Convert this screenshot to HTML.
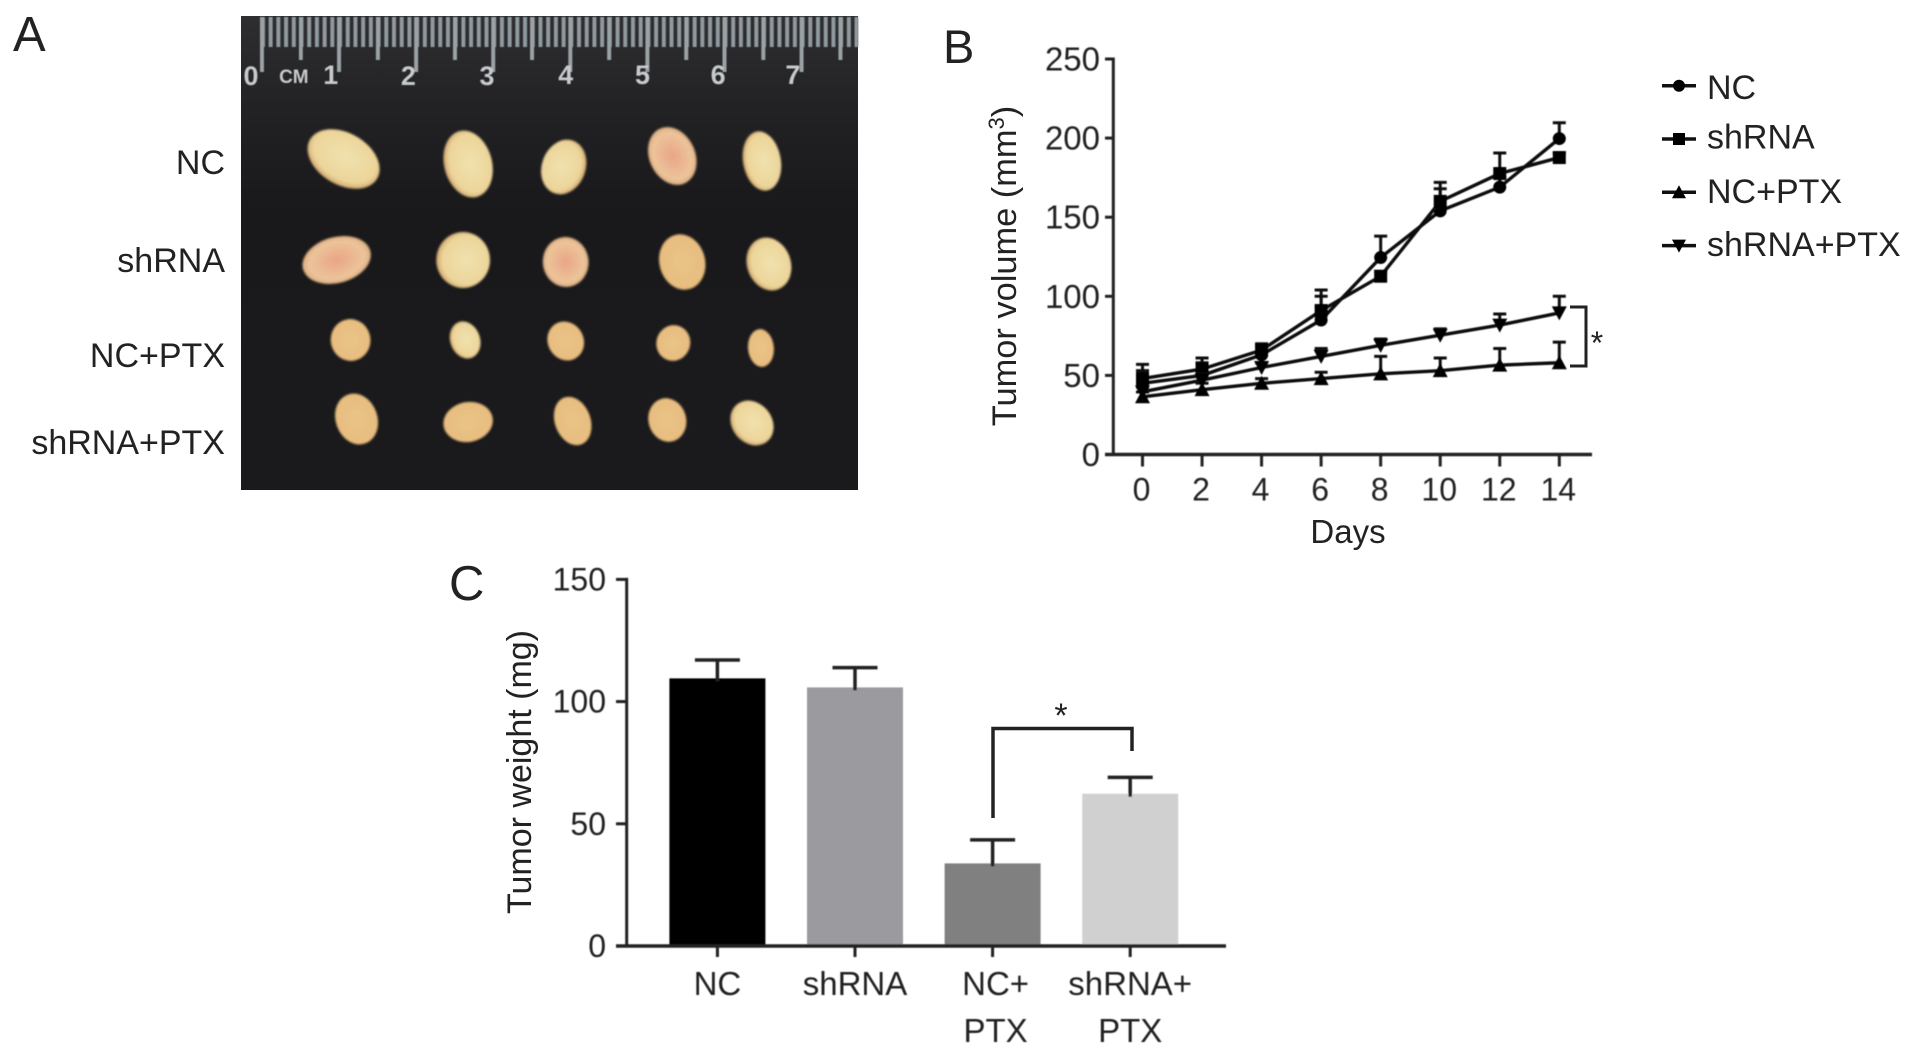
<!DOCTYPE html>
<html>
<head>
<meta charset="utf-8">
<title>Tumor figure</title>
<style>
html,body{margin:0;padding:0;background:#fff;}
body{width:1913px;height:1055px;overflow:hidden;}
svg{display:block;}
text{font-family:"Liberation Sans",sans-serif;fill:#222;}
</style>
</head>
<body>
<svg id="figure" xmlns="http://www.w3.org/2000/svg" width="1913" height="1055" viewBox="0 0 1913 1055">
<defs>
  <linearGradient id="photoBg" x1="0" y1="0" x2="0" y2="1">
    <stop offset="0" stop-color="#2e2e30"/><stop offset="0.2" stop-color="#222224"/><stop offset="0.4" stop-color="#19191b"/><stop offset="1" stop-color="#1a1a1c"/>
  </linearGradient>
  <radialGradient id="tYellow" cx="0.5" cy="0.45" r="0.62">
    <stop offset="0" stop-color="#f0e2ae"/><stop offset="0.7" stop-color="#ecd59a"/><stop offset="0.93" stop-color="#c99a62"/><stop offset="1" stop-color="#5a3d28"/>
  </radialGradient>
  <radialGradient id="tPink" cx="0.5" cy="0.5" r="0.62">
    <stop offset="0" stop-color="#e9a586"/><stop offset="0.65" stop-color="#ecc49a"/><stop offset="0.93" stop-color="#cf9a6c"/><stop offset="1" stop-color="#5a3526"/>
  </radialGradient>
  <radialGradient id="tOrange" cx="0.5" cy="0.5" r="0.62">
    <stop offset="0" stop-color="#e9c487"/><stop offset="0.75" stop-color="#e8bd80"/><stop offset="0.93" stop-color="#c88f52"/><stop offset="1" stop-color="#4e3018"/>
  </radialGradient>
  <pattern id="mmTicks" patternUnits="userSpaceOnUse" x="262" y="0" width="7.74" height="10">
    <rect x="0" y="0" width="4" height="10" fill="#8f999f"/>
  </pattern>
  <pattern id="cmTicks" patternUnits="userSpaceOnUse" x="261" y="0" width="77.4" height="10">
    <rect x="0" y="0" width="4" height="10" fill="#9aa2a6"/>
  </pattern>
  <pattern id="halfTicks" patternUnits="userSpaceOnUse" x="300" y="0" width="77.4" height="10">
    <rect x="0" y="0" width="4" height="10" fill="#9aa2a6"/>
  </pattern>
  <filter id="soft" x="-10%" y="-10%" width="120%" height="120%"><feGaussianBlur stdDeviation="1.1"/></filter>
  <filter id="softer" x="-5%" y="-5%" width="110%" height="110%"><feGaussianBlur stdDeviation="0.55"/></filter>
</defs>

<g id="panelA">
  <text x="13" y="51" font-size="49">A</text>
  <g>
    <rect x="241" y="16" width="617" height="474" fill="url(#photoBg)"/>
    <g filter="url(#softer)" transform="scale(0.996 1)">
      <rect x="262" y="17" width="600" height="30" fill="url(#mmTicks)"/>
      <rect x="261" y="17" width="601" height="55" fill="url(#cmTicks)"/>
      <rect x="300" y="17" width="562" height="43" fill="url(#halfTicks)"/>
      <g font-size="27" font-weight="bold" text-anchor="middle" style="fill:#c6cacd">
        <text x="252" y="85" style="fill:#c6cacd">0</text>
        <text x="295" y="83" font-size="19" style="fill:#c6cacd">CM</text>
        <text x="332" y="84" style="fill:#c6cacd">1</text>
        <text x="410" y="85" style="fill:#c6cacd">2</text>
        <text x="489" y="85" style="fill:#c6cacd">3</text>
        <text x="568" y="84" style="fill:#c6cacd">4</text>
        <text x="645" y="84" style="fill:#c6cacd">5</text>
        <text x="721" y="84" style="fill:#c6cacd">6</text>
        <text x="796" y="84" style="fill:#c6cacd">7</text>
      </g>
    </g>
    <g filter="url(#soft)" transform="scale(0.996 1)">
      <ellipse cx="345" cy="159" rx="39" ry="26" transform="rotate(30 345 159)" fill="url(#tYellow)"/>
      <ellipse cx="470" cy="164" rx="34" ry="24" transform="rotate(75 470 164)" fill="url(#tYellow)"/>
      <ellipse cx="566" cy="167" rx="28" ry="22" transform="rotate(-70 566 167)" fill="url(#tYellow)"/>
      <ellipse cx="675" cy="156" rx="30" ry="23" transform="rotate(65 675 156)" fill="url(#tPink)"/>
      <ellipse cx="765" cy="161" rx="30" ry="19" transform="rotate(80 765 161)" fill="url(#tYellow)"/>
      <ellipse cx="338" cy="260" rx="35" ry="23" transform="rotate(-15 338 260)" fill="url(#tPink)"/>
      <ellipse cx="465" cy="260" rx="28" ry="27" transform="rotate(90 465 260)" fill="url(#tYellow)"/>
      <ellipse cx="568" cy="262" rx="25" ry="23" transform="rotate(85 568 262)" fill="url(#tPink)"/>
      <ellipse cx="685" cy="262" rx="28" ry="23" transform="rotate(75 685 262)" fill="url(#tOrange)"/>
      <ellipse cx="772" cy="264" rx="27" ry="22" transform="rotate(70 772 264)" fill="url(#tYellow)"/>
      <ellipse cx="352" cy="340" rx="21" ry="20" transform="rotate(80 352 340)" fill="url(#tOrange)"/>
      <ellipse cx="467" cy="340" rx="19" ry="15" transform="rotate(70 467 340)" fill="url(#tYellow)"/>
      <ellipse cx="568" cy="341" rx="20" ry="18" transform="rotate(60 568 341)" fill="url(#tOrange)"/>
      <ellipse cx="676" cy="343" rx="18" ry="17" transform="rotate(-70 676 343)" fill="url(#tOrange)"/>
      <ellipse cx="764" cy="348" rx="19" ry="13" transform="rotate(85 764 348)" fill="url(#tOrange)"/>
      <ellipse cx="358" cy="419" rx="26" ry="21" transform="rotate(70 358 419)" fill="url(#tOrange)"/>
      <ellipse cx="470" cy="422" rx="25" ry="20" transform="rotate(-10 470 422)" fill="url(#tOrange)"/>
      <ellipse cx="575" cy="421" rx="25" ry="18" transform="rotate(70 575 421)" fill="url(#tOrange)"/>
      <ellipse cx="670" cy="420" rx="22" ry="19" transform="rotate(75 670 420)" fill="url(#tOrange)"/>
      <ellipse cx="755" cy="423" rx="24" ry="20" transform="rotate(50 755 423)" fill="url(#tYellow)"/>
    </g>
  </g>
  <g font-size="34" text-anchor="end">
    <text x="225" y="174">NC</text>
    <text x="225" y="272">shRNA</text>
    <text x="225" y="367">NC+PTX</text>
    <text x="225" y="454">shRNA+PTX</text>
  </g>
</g>

<g id="panelB">
  <text x="943" y="63" font-size="47">B</text>
  <text transform="translate(1016,266) rotate(-90)" font-size="34.4" text-anchor="middle">Tumor volume (mm<tspan font-size="22" dy="-12">3</tspan><tspan dy="12">)</tspan></text>
  <text x="1348" y="543" font-size="33" text-anchor="middle">Days</text>
  <g id="chartB" filter="url(#softer)"></g>
  <g id="legendB"></g>
  <path d="M1570 307H1586V366H1570" fill="none" stroke="#222" stroke-width="3"/>
  <text x="1597" y="354" font-size="32" text-anchor="middle">*</text>
</g>

<g id="panelC">
  <text x="449" y="600" font-size="49">C</text>
  <text transform="translate(531,772) rotate(-90)" font-size="34" text-anchor="middle">Tumor weight (mg)</text>
  <g id="chartC" filter="url(#softer)"></g>
  <path d="M993 818V728.5H1132V751" fill="none" stroke="#222" stroke-width="3.5"/>
  <text x="1061" y="727" font-size="34" text-anchor="middle">*</text>
</g>

<script>
var NS = 'http://www.w3.org/2000/svg';

// Chart B data
var days = [0, 2, 4, 6, 8, 10, 12, 14];
var volumeTicks = [0, 50, 100, 150, 200, 250];
var seriesNames = ['NC', 'shRNA', 'NC+PTX', 'shRNA+PTX'];
var seriesMarkers = ['circle', 'square', 'up', 'down'];
var ncValues = [45, 50, 63, 85, 124.5, 154, 169, 199.7];
var ncErrors = [12, 8, 5, 19, 13.5, 14, 6, 10];
var shrnaValues = [48, 54, 66, 91, 112.7, 160, 177.6, 187.7];
var shrnaErrors = [5, 7, 4, 9, 3, 12, 13, 3];
var ncPtxValues = [36.5, 41, 45, 48, 51, 53, 56.5, 58];
var ncPtxErrors = [3, 4, 3, 4, 11, 8, 10.5, 13];
var shrnaPtxValues = [39.6, 47, 55, 62, 69, 75.4, 81.8, 89.5];
var shrnaPtxErrors = [3, 4, 3, 5, 4, 4, 7, 10.5];

// Chart C data
var groupLabels = [['NC'], ['shRNA'], ['NC+', 'PTX'], ['shRNA+', 'PTX']];
var weightValues = [109.5, 105.8, 33.8, 62.3];
var weightErrors = [7.5, 8.1, 9.6, 6.7];
var weightTicks = [0, 50, 100, 150];
var barColors = ['#000000', '#9a9a9f', '#808080', '#d0d0d0'];

function mk(parent, tag, attrs) {
  var el = document.createElementNS(NS, tag);
  for (var k in attrs) { el.setAttribute(k, attrs[k]); }
  parent.appendChild(el);
  return el;
}

// Chart B axes
function xB(d) { return 1142.5 + d * (1559.3 - 1142.5) / 14; }
function yB(v) { return 454.5 - v * (454.5 - 59) / 250; }

function markerPath(kind, cx, cy, r) {
  if (kind === 'square') { return 'M' + (cx - r) + ' ' + (cy - r) + 'h' + (2 * r) + 'v' + (2 * r) + 'h' + (-2 * r) + 'z'; }
  if (kind === 'up') { return 'M' + cx + ' ' + (cy - r - 1) + 'L' + (cx + r + 1) + ' ' + (cy + r) + 'H' + (cx - r - 1) + 'z'; }
  if (kind === 'down') { return 'M' + cx + ' ' + (cy + r + 1) + 'L' + (cx + r + 1) + ' ' + (cy - r) + 'H' + (cx - r - 1) + 'z'; }
  return 'M' + (cx - r) + ' ' + cy + 'a' + r + ' ' + r + ' 0 1 0 ' + (2 * r) + ' 0a' + r + ' ' + r + ' 0 1 0 ' + (-2 * r) + ' 0z';
}

var gB = document.getElementById('chartB');
var yAxisB = mk(gB, 'line', { x1: 1113.3, x2: 1113.3, y1: yB(250) - 1.5, y2: yB(0), stroke: '#222', 'stroke-width': 3 });


var xAxisB = mk(gB, 'line', { x1: 1105, x2: 1592, y1: yB(0), y2: yB(0), stroke: '#222', 'stroke-width': 3.5 });



volumeTicks.forEach(function (t) {
  var tick = mk(gB, 'line', { x1: 1105, x2: 1113, y1: yB(t), y2: yB(t), stroke: '#222', 'stroke-width': 3 });
  
  
  var lab = mk(gB, 'text', { x: 1100, y: yB(t) + 11.5, 'font-size': 33, 'text-anchor': 'end' });
  lab.textContent = t;
  
  
});
days.forEach(function (d) {
  var tick = mk(gB, 'line', { x1: xB(d), x2: xB(d), y1: yB(0), y2: yB(0) + 12, stroke: '#222', 'stroke-width': 3 });
  
  
  var lab = mk(gB, 'text', { x: xB(d) - 1, y: 500.5, 'font-size': 32, 'text-anchor': 'middle' });
  lab.textContent = d;
  
  
});

var seriesValues = [ncValues, shrnaValues, ncPtxValues, shrnaPtxValues];
var seriesErrors = [ncErrors, shrnaErrors, ncPtxErrors, shrnaPtxErrors];
seriesValues.forEach(function (vals, s) {
  var kind = seriesMarkers[s];
  var pts = vals.map(function (v, i) { return xB(days[i]) + ',' + yB(v); }).join(' ');
  var line = mk(gB, 'polyline', { points: pts, fill: 'none', stroke: '#111', 'stroke-width': 3.4 });
  
  
  vals.forEach(function (v, i) {
    var cx = xB(days[i]);
    var top = yB(v + seriesErrors[s][i]);
    var err = mk(gB, 'path', { d: 'M' + cx + ' ' + yB(v) + 'V' + top + 'M' + (cx - 6.5) + ' ' + top + 'H' + (cx + 6.5), fill: 'none', stroke: '#111', 'stroke-width': 3 });
    
    
    var mark = mk(gB, 'path', { d: markerPath(kind, cx, yB(v), 6.5), fill: '#000' });
    
    
  });
});

// Legend
var gL = document.getElementById('legendB');
seriesNames.forEach(function (name, s) {
  var rowY = 85.7 + s * 53.3;
  var key = mk(gL, 'line', { x1: 1662, x2: 1696, y1: rowY, y2: rowY, stroke: '#111', 'stroke-width': 3.5 });
  
  
  var sym = mk(gL, 'path', { d: markerPath(seriesMarkers[s], 1679, rowY, 6), fill: '#000' });
  
  
  var lab = mk(gL, 'text', { x: 1707, y: rowY + (s === 0 ? 13.5 : s === 1 ? 9.5 : 10.5), 'font-size': 34 });
  lab.textContent = name;
  
  
});

// Chart C axes
function xC(i) { return 717.4 + i * 137.6; }
function yC(v) { return 946 - v * (946 - 579.4) / 150; }
var barWidth = 96;

var gC = document.getElementById('chartC');
weightValues.forEach(function (v, i) {
  var bar = mk(gC, 'rect', { x: xC(i) - barWidth / 2, y: yC(v), width: barWidth, height: yC(0) - yC(v), fill: barColors[i] });
  
  
  var cx = xC(i);
  var top = yC(v + weightErrors[i]);
  var err = mk(gC, 'path', { d: 'M' + cx + ' ' + (yC(v) + 3) + 'V' + top + 'M' + (cx - 22.5) + ' ' + top + 'H' + (cx + 22.5), fill: 'none', stroke: '#222', 'stroke-width': 3.5 });
  
  
  var tick = mk(gC, 'line', { x1: cx, x2: cx, y1: yC(0), y2: yC(0) + 11, stroke: '#222', 'stroke-width': 3 });
  
  
  groupLabels[i].forEach(function (txt, ln) {
    var lab = mk(gC, 'text', { x: cx + (i === 2 ? 3 : 0), y: 995 + ln * 47, 'font-size': 33, 'text-anchor': 'middle' });
    lab.textContent = txt;
    
    
  });
});
var yAxisC = mk(gC, 'line', { x1: 626.7, x2: 626.7, y1: yC(150) - 1.5, y2: yC(0), stroke: '#222', 'stroke-width': 3 });


var xAxisC = mk(gC, 'line', { x1: 616, x2: 1226, y1: yC(0), y2: yC(0), stroke: '#222', 'stroke-width': 3.5 });


weightTicks.forEach(function (t) {
  var tick = mk(gC, 'line', { x1: 616, x2: 627, y1: yC(t), y2: yC(t), stroke: '#222', 'stroke-width': 3 });
  
  
  var lab = mk(gC, 'text', { x: 606, y: yC(t) + 11, 'font-size': 32, 'text-anchor': 'end' });
  lab.textContent = t;
  
  
});
</script>
</svg>
</body>
</html>
